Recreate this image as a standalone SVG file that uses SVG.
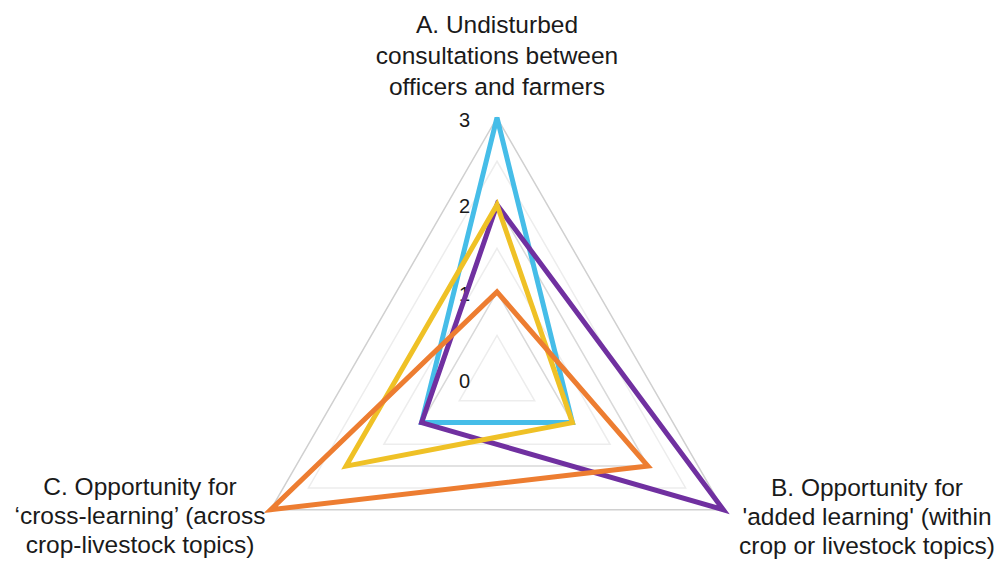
<svg xmlns="http://www.w3.org/2000/svg" width="997" height="561" viewBox="0 0 997 561">
<style>
.minor{fill:none;stroke:#ededed;stroke-width:1.5}
.major{fill:none;stroke:#d9d9d9;stroke-width:1.5}
.series{fill:none;stroke-width:5;stroke-linejoin:miter}
.lbl{font-family:"Liberation Sans",Arial,sans-serif;font-size:24.5px;fill:#1a1a1a;text-anchor:middle}
.tick{font-family:"Liberation Sans",Arial,sans-serif;font-size:20px;fill:#1a1a1a;text-anchor:end}
</style>
<rect width="997" height="561" fill="#ffffff"/>
<g id="grid">
<polygon class="minor" points="497,335.45 534.7,400.8 459.3,400.8"/>
<polygon class="major" points="497,291.9 572.4,422.6 421.6,422.6"/>
<polygon class="minor" points="497,248.35 610.1,444.3 383.9,444.3"/>
<polygon class="major" points="497,204.8 647.9,466.1 346.1,466.1"/>
<polygon class="minor" points="497,161.25 685.6,487.9 308.4,487.9"/>
<polygon class="major" points="497,117.7 723.3,509.7 270.7,509.7" style="stroke:#d0d0d0"/>
</g>
<g id="ticks">
<text class="tick" x="470" y="127">3</text>
<text class="tick" x="470" y="213">2</text>
<text class="tick" x="470" y="301">1</text>
<text class="tick" x="470" y="388">0</text>
</g>
<g id="connectors">
<polygon id="series-blue" class="series" stroke="#46bde8" points="497,117.7 572.4,422.6 421.6,422.6"/>
<polygon id="series-purple" class="series" stroke="#7030a0" points="497,204.8 723.3,509.7 421.6,422.6"/>
<polygon id="series-yellow" class="series" stroke="#efc126" points="497,204.8 572.4,422.6 346.1,466.1"/>
<polygon id="series-orange" class="series" stroke="#ed7d31" points="497,291.9 647.9,466.1 270.7,509.7"/>
</g>
<g id="node-A">
<text class="lbl" x="497" y="33">A. Undisturbed</text>
<text class="lbl" x="497" y="64">consultations between</text>
<text class="lbl" x="497" y="95">officers and farmers</text>
</g>
<g id="node-B">
<text class="lbl" x="867" y="496">B. Opportunity for</text>
<text class="lbl" x="867" y="525">'added learning' (within</text>
<text class="lbl" x="867" y="554">crop or livestock topics)</text>
</g>
<g id="node-C">
<text class="lbl" x="140" y="495">C. Opportunity for</text>
<text class="lbl" x="140" y="524">‘cross-learning’ (across</text>
<text class="lbl" x="140" y="553">crop-livestock topics)</text>
</g>
</svg>
